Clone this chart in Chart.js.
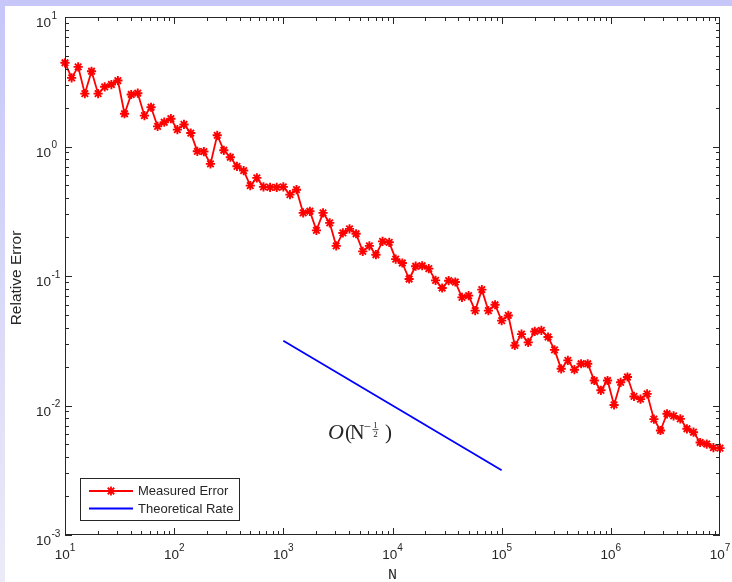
<!DOCTYPE html>
<html lang="en">
<head>
    <meta charset="UTF-8">
    <title>Relative Error vs N</title>
    <script src="https://cdn.jsdelivr.net/npm/chart.js@4.4.1/dist/chart.umd.min.js"></script>
    <style>
        * {
            margin: 0;
            padding: 0;
            box-sizing: border-box;
        }

        body {
            width: 732px;
            height: 582px;
            overflow: hidden;
            background: linear-gradient(#c6c6f9, #ebebf8);
            position: relative;
        }

        .sheet {
            position: absolute;
            left: 5px;
            top: 6px;
            right: 0;
            bottom: 0;
            background: #ffffff;
        }

        #errChart {
            position: absolute;
            left: 0;
            top: 0;
        }
    </style>
</head>
<body>
    <div class="sheet"></div>
    <canvas id="errChart" width="732" height="582"></canvas>

    <script>
        // Sample sizes (log-spaced from 10 to 1e7)
        const nValues = [
            10, 11.5, 13.2, 15.2, 17.5, 20.1, 23.1, 26.6, 30.5, 35.1, 40.4, 46.4, 53.4, 61.4, 70.5, 81.1, 93.3,
            107, 123, 142, 163, 187, 215, 248, 285, 327, 376, 433, 498, 572, 658, 756, 870,
            1000, 1150, 1320, 1520, 1750, 2010, 2310, 2660, 3050, 3510, 4040, 4640, 5340, 6140, 7050, 8110, 9330,
            10700, 12300, 14200, 16300, 18700, 21500, 24800, 28500, 32700, 37600, 43300, 49800, 57200, 65800, 75600, 87000,
            100000, 115000, 132000, 152000, 175000, 201000, 231000, 266000, 305000, 351000, 404000, 464000, 534000, 614000, 705000, 811000, 933000,
            1070000, 1230000, 1420000, 1630000, 1870000, 2150000, 2480000, 2850000, 3270000, 3760000, 4330000, 4980000, 5720000, 6580000, 7560000, 8700000,
            10000000
        ];

        // Measured relative error at each N
        const measuredError = [
            4.43, 3.39, 4.12, 2.56, 3.81, 2.56, 2.89, 3.01, 3.23, 1.79,
            2.52, 2.58, 1.73, 2.01, 1.43, 1.54, 1.64, 1.35, 1.48, 1.27,
            0.918, 0.914, 0.734, 1.22, 0.935, 0.826, 0.703, 0.652, 0.499, 0.572,
            0.488, 0.484, 0.484, 0.488, 0.425, 0.464, 0.307, 0.316, 0.225, 0.307,
            0.257, 0.171, 0.215, 0.231, 0.212, 0.155, 0.171, 0.146, 0.185, 0.182,
            0.135, 0.126, 0.0948, 0.119, 0.120, 0.114, 0.0925, 0.0808, 0.0920, 0.0899,
            0.0684, 0.0705, 0.0540, 0.0785, 0.0540, 0.0600, 0.0452, 0.0496, 0.0291, 0.0356,
            0.0307, 0.0373, 0.0380, 0.0338, 0.0269, 0.0192, 0.0223, 0.0189, 0.0210, 0.0210,
            0.0156, 0.0131, 0.0156, 0.0101, 0.0151, 0.0166, 0.01175, 0.0112, 0.0123, 0.00785,
            0.00641, 0.00863, 0.00832, 0.00789, 0.00661, 0.00622, 0.00518, 0.00504, 0.00473, 0.00469
        ];

        // Reference slope line, O(N^-1/2)
        const rateN = [1000, 100000];
        const rateValues = [0.0316, 0.00316];

        // Decade exponents for the tick labels
        const xTickExps = [1, 2, 3, 4, 5, 6, 7];
        const yTickExps = [-3, -2, -1, 0, 1];

        const AXIS_COLOR = '#262626';
        const LABEL_FONT = '"Liberation Sans", Arial, sans-serif';

        const toPoints = (xs, ys) => xs.map((v, i) => ({ x: v, y: ys[i] }));

        // MATLAB-like box: inward ticks on all sides, 10^k labels, legend and slope note
        const axesPlugin = {
            id: 'matlabAxes',
            afterDraw(chart) {
                const { ctx, chartArea: a, scales: { x, y } } = chart;
                ctx.save();

                // minor + major ticks
                ctx.strokeStyle = AXIS_COLOR;
                ctx.lineWidth = 1;
                ctx.beginPath();
                for (let d = x.min; d < x.max; d *= 10) {
                    for (let m = 1; m <= 9; m++) {
                        const px = Math.round(x.getPixelForValue(d * m)) + 0.5;
                        const len = m === 1 ? 7 : 4;
                        ctx.moveTo(px, a.bottom); ctx.lineTo(px, a.bottom - len);
                        ctx.moveTo(px, a.top); ctx.lineTo(px, a.top + len);
                    }
                }
                for (let d = y.min; d < y.max; d *= 10) {
                    for (let m = 1; m <= 9; m++) {
                        const py = Math.round(y.getPixelForValue(d * m)) + 0.5;
                        const len = m === 1 ? 7 : 4;
                        ctx.moveTo(a.left, py); ctx.lineTo(a.left + len, py);
                        ctx.moveTo(a.right, py); ctx.lineTo(a.right - len, py);
                    }
                }
                ctx.stroke();
                ctx.strokeRect(a.left + 0.5, a.top + 0.5, a.right - a.left - 1, a.bottom - a.top - 1);

                // tick labels
                ctx.fillStyle = AXIS_COLOR;
                ctx.textBaseline = 'alphabetic';
                const big = '13.5px ' + LABEL_FONT;
                const small = '10px ' + LABEL_FONT;
                xTickExps.forEach(e => {
                    const px = x.getPixelForValue(Math.pow(10, e));
                    ctx.font = big;
                    const w1 = ctx.measureText('10').width;
                    ctx.font = small;
                    const w2 = ctx.measureText(String(e)).width;
                    const left = px - (w1 + w2) / 2;
                    ctx.textAlign = 'left';
                    ctx.font = big;
                    ctx.fillText('10', left, a.bottom + 24);
                    ctx.font = small;
                    ctx.fillText(String(e), left + w1, a.bottom + 16);
                });
                yTickExps.forEach(e => {
                    const py = y.getPixelForValue(Math.pow(10, e));
                    ctx.font = big;
                    ctx.textAlign = 'right';
                    ctx.fillText('10', a.left - 14, py + 10);
                    ctx.font = small;
                    ctx.textAlign = 'left';
                    ctx.fillText(String(e), a.left - 13.5, py + 1.5);
                });

                // axis titles
                ctx.textAlign = 'center';
                ctx.font = '15px "Liberation Mono", monospace';
                ctx.fillText('N', (a.left + a.right) / 2, a.bottom + 44);
                ctx.save();
                ctx.translate(17, (a.top + a.bottom) / 2 + 2);
                ctx.rotate(-Math.PI / 2);
                ctx.font = '15.5px ' + LABEL_FONT;
                ctx.textBaseline = 'middle';
                ctx.fillText('Relative Error', 0, 0);
                ctx.restore();

                // slope annotation, anchored in data space
                const ax = x.getPixelForValue(2565);
                const ay = y.getPixelForValue(0.0055);
                ctx.textAlign = 'left';
                ctx.textBaseline = 'alphabetic';
                ctx.font = 'italic 22px "Liberation Serif", serif';
                ctx.fillText('O', ax, ay);
                ctx.font = '21px "Liberation Serif", serif';
                ctx.fillText('(', ax + 17, ay);
                ctx.font = '20px "Liberation Serif", serif';
                ctx.fillText('N', ax + 22, ay);
                ctx.font = '13px "Liberation Serif", serif';
                ctx.fillText('\u2212', ax + 35.5, ay - 8);
                ctx.font = '9px "Liberation Serif", serif';
                ctx.textAlign = 'center';
                ctx.fillText('1', ax + 47.5, ay - 11.5);
                ctx.fillText('2', ax + 47.5, ay - 2);
                ctx.beginPath();
                ctx.lineWidth = 0.8;
                ctx.moveTo(ax + 44.5, ay - 9.5); ctx.lineTo(ax + 50.5, ay - 9.5);
                ctx.stroke();
                ctx.textAlign = 'left';
                ctx.font = '21px "Liberation Serif", serif';
                ctx.fillText(')', ax + 57, ay);

                // legend
                const lx = a.left + 15, ly = a.bottom - 57;
                ctx.fillStyle = '#ffffff';
                ctx.fillRect(lx, ly, 159, 42);
                ctx.strokeStyle = AXIS_COLOR;
                ctx.lineWidth = 1;
                ctx.strokeRect(lx + 0.5, ly + 0.5, 159, 42);
                ctx.font = '13px ' + LABEL_FONT;
                ctx.textBaseline = 'middle';
                chart.data.datasets.forEach((ds, i) => {
                    const ry = ly + 13 + i * 17.5;
                    ctx.strokeStyle = ds.borderColor;
                    ctx.lineWidth = ds.borderWidth;
                    ctx.beginPath();
                    ctx.moveTo(lx + 9, ry); ctx.lineTo(lx + 53, ry);
                    ctx.stroke();
                    if (ds.pointRadius > 0) {
                        Chart.helpers.drawPoint(ctx, {
                            pointStyle: ds.pointStyle,
                            radius: ds.pointRadius,
                            borderWidth: ds.pointBorderWidth
                        }, lx + 31, ry);
                    }
                    ctx.fillStyle = AXIS_COLOR;
                    ctx.fillText(ds.label, lx + 58, ry + 0.5);
                });

                ctx.restore();
            }
        };

        new Chart(document.getElementById('errChart'), {
            type: 'line',
            data: {
                datasets: [
                    {
                        label: 'Measured Error',
                        data: toPoints(nValues, measuredError),
                        borderColor: '#ff0000',
                        borderWidth: 1.8,
                        pointStyle: 'star',
                        pointRadius: 4.6,
                        pointBorderWidth: 1.9,
                        pointBorderColor: '#ff0000',
                        pointBackgroundColor: '#ff0000',
                        tension: 0,
                        clip: false
                    },
                    {
                        label: 'Theoretical Rate',
                        data: toPoints(rateN, rateValues),
                        borderColor: '#0000ff',
                        borderWidth: 1.8,
                        pointRadius: 0,
                        tension: 0
                    }
                ]
            },
            options: {
                responsive: false,
                animation: false,
                events: [],
                layout: { padding: { top: 17, right: 12, left: 0, bottom: 0 } },
                plugins: {
                    legend: { display: false },
                    tooltip: { enabled: false }
                },
                scales: {
                    x: {
                        type: 'logarithmic',
                        min: 10,
                        max: 10000000,
                        grid: { display: false },
                        border: { display: false },
                        ticks: { display: false },
                        afterFit(scale) { scale.height = 47; }
                    },
                    y: {
                        type: 'logarithmic',
                        min: 0.001,
                        max: 10,
                        grid: { display: false },
                        border: { display: false },
                        ticks: { display: false },
                        afterFit(scale) { scale.width = 65; }
                    }
                }
            },
            plugins: [axesPlugin]
        });
    </script>
</body>
</html>
